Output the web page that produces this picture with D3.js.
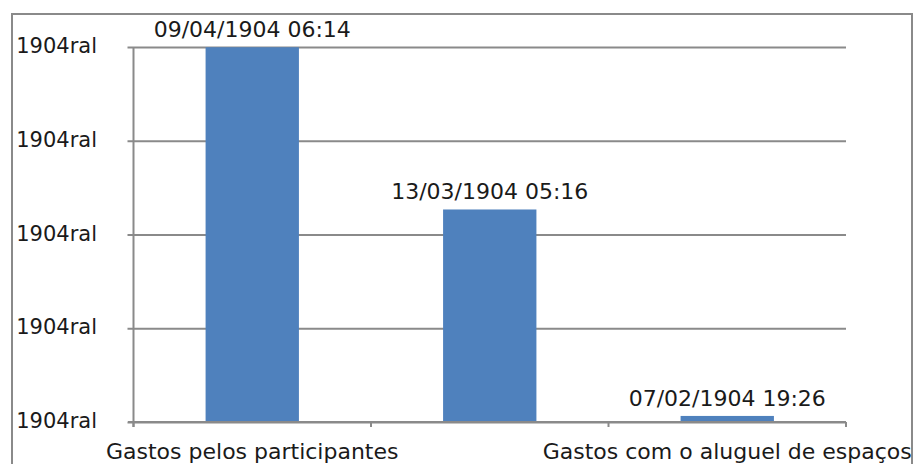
<!DOCTYPE html>
<html>
<head>
<meta charset="utf-8">
<script src="https://cdn.jsdelivr.net/npm/d3@7"></script>
<style>
  body { margin: 0; background: #fff; }
  text { font-family: "DejaVu Sans", sans-serif; fill: #1a1a1a; }
</style>
</head>
<body>
<div id="chart"></div>
<script>
// chart values (Excel 1904 date serials, shown as dd/mm/yyyy hh:mm)
var categories  = ["Gastos pelos participantes", "", "Gastos com o aluguel de espaços"],
    values      = [99.26, 72.22, 37.81],
    valueLabels = ["09/04/1904 06:14", "13/03/1904 05:16", "07/02/1904 19:26"],
    yTicks      = [36.8, 52.425, 68.05, 83.675, 99.3],
    yTickLabels = ["1904ral", "1904ral", "1904ral", "1904ral", "1904ral"];

var width = 914, height = 464;

var svg = d3.select("#chart")
  .append("svg")
    .attr("width", width)
    .attr("height", height);

// outer chart border
svg.append("rect")
    .attr("x", 12).attr("y", 14)
    .attr("width", 900).attr("height", 470)
    .style("fill", "none")
    .style("stroke", "#8a8a8a")
    .style("stroke-width", 2);

var x = d3.scaleBand()
    .domain(d3.range(categories.length))
    .range([133.5, 846]);

var y = d3.scaleLinear()
    .domain([yTicks[0], yTicks[yTicks.length - 1]])
    .range([422, 47]);

// gridlines + y ticks
svg.append("g")
    .attr("transform", "translate(133.5,0)")
    .call(d3.axisLeft(y)
      .tickValues(yTicks)
      .tickSize(-(846 - 133.5))
      .tickFormat(""))
    .call(function(g) {
      g.select(".domain").remove();
      g.selectAll(".tick line")
        .attr("x1", -6)
        .style("stroke", "#8a8a8a")
        .style("stroke-width", 2);
    });

// y axis line
svg.append("line")
    .attr("x1", 133.5).attr("x2", 133.5)
    .attr("y1", y(yTicks[yTicks.length - 1])).attr("y2", y(yTicks[0]) + 5)
    .style("stroke", "#8a8a8a")
    .style("stroke-width", 2);

// y tick labels
svg.append("g")
  .selectAll("text")
  .data(yTicks)
  .enter()
  .append("text")
    .attr("x", 97)
    .attr("y", function(d) { return y(d) + 6; })
    .attr("text-anchor", "end")
    .style("font-size", "21px")
    .text(function(d, i) { return yTickLabels[i]; });

// bars
var barW = x.bandwidth() * 0.393;
svg.append("g")
  .selectAll("rect")
  .data(values)
  .enter()
  .append("rect")
    .attr("x", function(d, i) { return x(i) + (x.bandwidth() - barW) / 2; })
    .attr("y", function(d) { return y(d); })
    .attr("width", barW)
    .attr("height", function(d) { return y(yTicks[0]) - y(d); })
    .style("fill", "#4f81bd");

// x axis baseline with category ticks
svg.append("g")
    .attr("transform", "translate(0," + y(yTicks[0]) + ")")
    .call(function(g) {
      g.append("line")
        .attr("x1", 128).attr("x2", 846)
        .style("stroke", "#8a8a8a")
        .style("stroke-width", 2);
      g.selectAll(".ctick")
        .data(d3.range(categories.length + 1))
        .enter()
        .append("line")
          .attr("class", "ctick")
          .attr("x1", function(i) { return 133.5 + i * x.step(); })
          .attr("x2", function(i) { return 133.5 + i * x.step(); })
          .attr("y1", 0).attr("y2", 5)
          .style("stroke", "#8a8a8a")
          .style("stroke-width", 2);
    });

// value labels
svg.append("g")
  .selectAll("text")
  .data(values)
  .enter()
  .append("text")
    .attr("x", function(d, i) { return x(i) + x.bandwidth() / 2; })
    .attr("y", function(d) { return y(d) - 10; })
    .attr("text-anchor", "middle")
    .style("font-size", "22px")
    .text(function(d, i) { return valueLabels[i]; });

// category labels
svg.append("g")
  .selectAll("text")
  .data(categories)
  .enter()
  .append("text")
    .attr("x", function(d, i) { return x(i) + x.bandwidth() / 2; })
    .attr("y", 459)
    .attr("text-anchor", "middle")
    .style("font-size", "22px")
    .text(function(d) { return d; });
</script>
</body>
</html>
